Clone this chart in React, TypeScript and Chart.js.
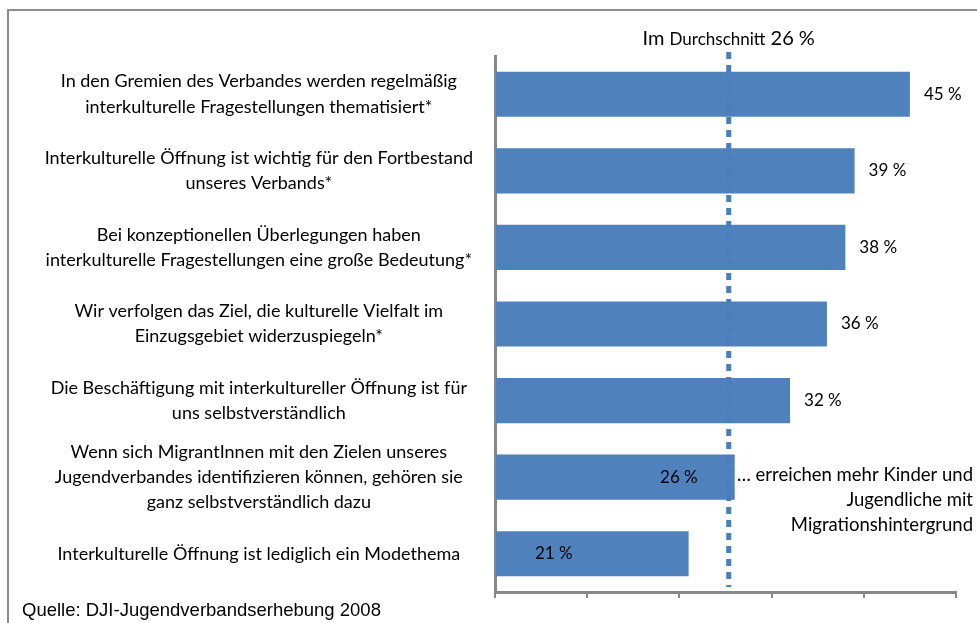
import React, { useEffect, useRef } from "react";
import { Chart, registerables } from "chart.js";

Chart.register(...registerables);

const categories: string[][] = [
  ["In den Gremien des Verbandes werden regelmäßig", "interkulturelle Fragestellungen thematisiert*"],
  ["Interkulturelle Öffnung ist wichtig für den Fortbestand", "unseres Verbands*"],
  ["Bei konzeptionellen Überlegungen haben", "interkulturelle Fragestellungen eine große Bedeutung*"],
  ["Wir verfolgen das Ziel, die kulturelle Vielfalt im", "Einzugsgebiet widerzuspiegeln*"],
  ["Die Beschäftigung mit interkultureller Öffnung ist für", "uns selbstverständlich"],
  ["Wenn sich MigrantInnen mit den Zielen unseres", "Jugendverbandes identifizieren können, gehören sie", "ganz selbstverständlich dazu"],
  ["Interkulturelle Öffnung ist lediglich ein Modethema"],
];
const values: number[] = [45, 39, 38, 36, 32, 26, 21];
const average = 26;
const averageLabel = ["Im", "Durchschnitt", "26 %"];
const noteLines = ["… erreichen mehr Kinder und", "Jugendliche mit", "Migrationshintergrund"];
const sourceText = "Quelle: DJI-Jugendverbandserhebung 2008";
const xMin = 0;
const xMax = 50;
const xStep = 10;

const FONT = "Lato, 'Open Sans', sans-serif";
const BLUE = "#4f81bd";
const GRAY = "#878787";

const overlay = {
  id: "overlay",
  afterDatasetsDraw(chart: any) {
    const { ctx, chartArea, scales } = chart;
    const xs = scales.x;
    const meta = chart.getDatasetMeta(0);
    ctx.save();
    // data labels
    ctx.fillStyle = "#000";
    ctx.font = `17px ${FONT}`;
    ctx.textBaseline = "middle";
    meta.data.forEach((bar: any, i: number) => {
      const v = values[i];
      const txt = `${v} %`;
      if (v > average) {
        ctx.textAlign = "left";
        ctx.fillText(txt, bar.x + 14, bar.y);
      } else if (i === values.length - 1) {
        ctx.textAlign = "left";
        ctx.fillText(txt, chartArea.left + 40, bar.y);
      } else {
        ctx.textAlign = "right";
        ctx.fillText(txt, bar.x - 37, bar.y);
      }
    });
    // average dotted line
    const ax = xs.getPixelForValue(average) - 6;
    ctx.strokeStyle = "#4a7dbc";
    ctx.lineWidth = 5;
    ctx.setLineDash([7, 6]);
    ctx.beginPath();
    ctx.moveTo(ax, chartArea.top - 4);
    ctx.lineTo(ax, chartArea.bottom - 5);
    ctx.stroke();
    ctx.setLineDash([]);
    // average label
    ctx.fillStyle = "#000";
    ctx.textBaseline = "alphabetic";
    ctx.textAlign = "left";
    const big = `20px ${FONT}`;
    const small = `17px ${FONT}`;
    ctx.font = big;
    const w1 = ctx.measureText(averageLabel[0] + " ").width;
    const w3 = ctx.measureText(" " + averageLabel[2]).width;
    ctx.font = small;
    const w2 = ctx.measureText(averageLabel[1]).width;
    let sx = ax - (w1 + w2 + w3) / 2;
    const by = chartArea.top - 11;
    ctx.font = big;
    ctx.fillText(averageLabel[0] + " ", sx, by);
    sx += w1;
    ctx.font = small;
    ctx.fillText(averageLabel[1], sx, by);
    sx += w2;
    ctx.font = big;
    ctx.fillText(" " + averageLabel[2], sx, by);
    // note
    ctx.font = `18.5px ${FONT}`;
    ctx.textAlign = "right";
    ctx.textBaseline = "middle";
    const nb = meta.data[5];
    noteLines.forEach((l, k) => {
      ctx.fillText(l, chart.width - 4, nb.y - 2 + k * 25);
    });
    // source
    ctx.font = `18.5px 'Liberation Sans', Arial, sans-serif`;
    ctx.textAlign = "left";
    ctx.textBaseline = "alphabetic";
    ctx.fillText(sourceText, 22, chart.height - 7);
    // frame
    ctx.strokeStyle = "#8c8c8c";
    ctx.lineWidth = 2;
    ctx.beginPath();
    ctx.moveTo(8, chart.height);
    ctx.lineTo(8, 10);
    ctx.lineTo(chart.width, 10);
    ctx.stroke();
    ctx.restore();
  },
};

export default function App() {
  const ref = useRef<HTMLCanvasElement>(null);
  useEffect(() => {
    if (!ref.current) return;
    const chart = new Chart(ref.current, {
      type: "bar",
      data: {
        labels: categories,
        datasets: [
          {
            data: values,
            backgroundColor: BLUE,
            borderWidth: 0,
            barPercentage: 0.59,
            categoryPercentage: 1,
          },
        ],
      },
      options: {
        indexAxis: "y",
        animation: false,
        responsive: false,
        maintainAspectRatio: false,
        layout: { padding: { left: 0, top: 56, right: 21, bottom: 0 } },
        plugins: { legend: { display: false }, tooltip: { enabled: false } },
        scales: {
          x: {
            min: xMin,
            max: xMax,
            ticks: { stepSize: xStep, display: false },
            grid: {
              drawOnChartArea: false,
              drawTicks: true,
              tickLength: 6,
              color: GRAY,
              lineWidth: 2,
            },
            border: { color: GRAY, width: 3 },
            afterFit(scale: any) {
              scale.height = 31;
              scale.paddingLeft = 0;
              scale.paddingRight = 0;
            },
          },
          y: {
            ticks: {
              color: "#000",
              crossAlign: "center",
              padding: 22,
              autoSkip: false,
              font: { family: FONT, size: 18, lineHeight: 1.4 },
            },
            grid: { drawOnChartArea: false, drawTicks: false },
            border: { color: GRAY, width: 3 },
            afterFit(scale: any) {
              scale.width = 495;
              scale.paddingTop = 0;
              scale.paddingBottom = 0;
            },
          },
        },
      },
      plugins: [overlay],
    } as any);
    return () => chart.destroy();
  }, []);
  return (
    <div style={{ position: "fixed", left: 0, top: 0, width: 977, height: 623, background: "#fff" }}>
      <canvas ref={ref} width={977} height={623} style={{ display: "block" }} />
    </div>
  );
}
